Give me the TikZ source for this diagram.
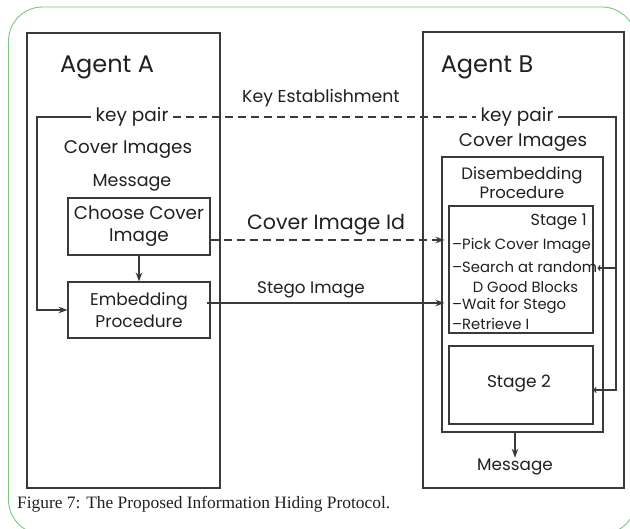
\documentclass[tikz,border=0pt]{standalone}
\usepackage{fontspec}
\setmainfont{Poppins}
\newfontfamily\capfont{Liberation Serif}
\usetikzlibrary{arrows.meta,calc}
\definecolor{linegray}{HTML}{3A3A3A}
\definecolor{txt}{HTML}{202020}
\definecolor{framegreen}{HTML}{7CC77C}

\newcommand{\fs}[1]{\fontsize{#1}{1.18\dimexpr#1pt\relax}\selectfont}

\begin{document}
\begin{tikzpicture}[x=1pt,y=-1pt,
  box/.style={draw=linegray,line width=1.1pt,inner sep=0pt},
  lbl/.style={text=txt,inner sep=1pt},
  keylbl/.style={text=txt,inner sep=4.5pt,font=\fs{18.5}},
  small/.style={text=txt,inner sep=0pt,font=\fs{14.8}},
  conn/.style={draw=linegray,line width=1.1pt},
  mainarrow/.style={conn,-{Stealth[length=9pt,width=6.5pt]}},
  thinarrow/.style={conn,-{To[length=3pt,width=6pt]}},
  keydash/.style={conn,dash pattern=on 8pt off 5pt}]

\useasboundingbox (0,0) rectangle (630,529);

% outer rounded frame
\draw[framegreen,line width=0.9pt,rounded corners=34pt] (8.5,7) rectangle (636,534);

% agent boxes
\node[box,minimum width=193pt,minimum height=455pt] (agA) at (123.5,260.5) {};
\node[box,minimum width=201pt,minimum height=456pt] (agB) at (523.5,260) {};

\node[lbl,font=\fs{24}] (agAt) at (107,67) {Agent A};
\node[lbl,font=\fs{24}] (agBt) at (487,67) {Agent B};

% agent A contents
\node[keylbl] (kpA) at (132,117) {key pair};
\node[lbl,font=\fs{18.3}] (covA) at (128,150) {Cover Images};
\node[lbl,font=\fs{17.5}] (msgA) at (132,183) {Message};
\node[box,minimum width=142pt,minimum height=57pt] (choose) at (139,226.5) {};
\node[lbl,align=center,font=\fontsize{18.4}{22}\selectfont] (chooset) at (choose.center) {Choose Cover\\Image};
\node[box,minimum width=142pt,minimum height=56pt] (emb) at (139,310) {};
\node[lbl,align=center,font=\fontsize{17}{22}\selectfont] (embt) at (emb.center) {Embedding\\Procedure};

% agent B contents
\node[keylbl] (kpB) at (517,117) {key pair};
\node[lbl,font=\fs{18.3}] (covB) at (523,143) {Cover Images};
\node[box,minimum width=161pt,minimum height=275pt] (dis) at (522.5,294.5) {};
\node[lbl,align=center,font=\fontsize{16.5}{19.5}\selectfont] (dist) at (522,183) {Disembedding\\Procedure};
\node[box,minimum width=144pt,minimum height=127pt] (s1) at (521,269.5) {};
\node[lbl,inner sep=0pt,anchor=east,font=\fs{16}] (s1t) at (587,222) {Stage 1};
\node[small,anchor=west] (s1a) at (452,246) {--Pick Cover Image};
\node[small,anchor=west] (s1b) at (452,267) {--Search at random};
\node[small] (s1c) at (525.5,287) {D Good Blocks};
\node[small,anchor=west] (s1d) at (452,306) {--Wait for Stego};
\node[small,anchor=west] (s1e) at (452,324) {--Retrieve I};
\node[box,minimum width=144pt,minimum height=78pt] (s2) at (521,385) {};
\node[lbl,font=\fs{17}] (s2t) at (519,384) {Stage 2};
\node[lbl,font=\fs{16.8}] (msgB) at (515,467) {Message};

% messages between the agents
\node[lbl,font=\fs{17.3}] (keyest) at (321,98) {Key Establishment};
\node[lbl,font=\fs{20.6}] (cidl) at (326,225) {Cover Image Id};
\node[lbl,font=\fs{16.8}] (stegol) at (311,290) {Stego Image};

\draw[keydash] (kpA.east) -- (kpB.west);

\coordinate (cidA) at ($(choose.east)+(0,13.5)$);
\draw[mainarrow,dash pattern=on 8pt off 5pt,shorten >=4pt] (cidA) -- (s1.west |- cidA);

\coordinate (stA) at ($(emb.east)+(-4,-7)$);
\draw[mainarrow,shorten >=4pt] (stA) -- (s1.west |- stA);

% key pair of agent A feeds the embedding
\coordinate (lc) at (37,117);
\draw[mainarrow] (kpA.west) -- (lc) |- (emb.west);
\draw[mainarrow] (choose.south) -- (emb.north);

% key pair of agent B feeds both stages
\coordinate (rc) at (616,390);
\coordinate (rb) at (616,268);
\draw[thinarrow] (kpB.east) -| (rc) -- (s2.east |- rc);
\draw[thinarrow] (rb) -- ($(s1.east |- rb)+(4,0)$);

\draw[mainarrow] (msgB.north |- dis.south) -- (msgB.north);

% caption
\node[anchor=west,inner sep=0pt,text=txt,font=\capfont\fontsize{17.4}{20}\selectfont] (cap) at (17,504) {Figure 7: The Proposed Information Hiding Protocol.};

\end{tikzpicture}
\end{document}
